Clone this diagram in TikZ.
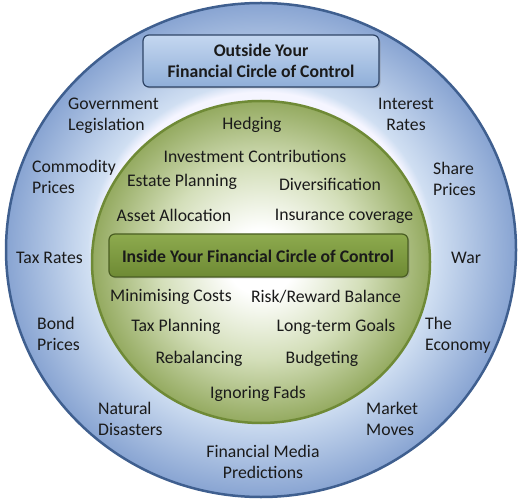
\documentclass[tikz,border=0pt]{standalone}
\usepackage{fontspec}
\setmainfont{Carlito}
\usetikzlibrary{shadows}
\definecolor{txt}{HTML}{1A1A1A}
\definecolor{oborder}{HTML}{3F5F8F}
\definecolor{iborder}{HTML}{6F8A36}
\definecolor{bluetop}{HTML}{C4D7F0}
\definecolor{bluebot}{HTML}{8FAED8}
\definecolor{boxborder}{HTML}{2E4466}
\definecolor{greentop}{HTML}{8DAA4E}
\definecolor{greenbot}{HTML}{6E8A34}
\definecolor{gboxborder}{HTML}{4A5E22}
\pgfdeclareradialshading{outerblue}{\pgfpoint{0bp}{0bp}}{color(0bp)=(white!70!blue!20);
  color(16bp)=(white!80!blue!20); color(17bp)=(rgb,255:red,208;green,223;blue,242);
  color(25bp)=(rgb,255:red,136;green,164;blue,210); color(50bp)=(rgb,255:red,136;green,164;blue,210)}
\pgfdeclareradialshading{innergreen}{\pgfpoint{0bp}{0bp}}{color(0bp)=(white);
  color(5bp)=(white); color(15bp)=(rgb,255:red,212;green,223;blue,186);
  color(25bp)=(rgb,255:red,148;green,170;blue,96); color(50bp)=(rgb,255:red,148;green,170;blue,96)}
\begin{document}
\begin{tikzpicture}[x=1pt,y=-1pt,
  lbl/.style={font=\fontsize{17.7}{21}\selectfont, text=txt, inner sep=0pt},
  lleft/.style={lbl, align=left, anchor=west},
  lctr/.style={lbl, align=center},
  ttl/.style={font=\fontsize{17.7}{21}\selectfont\bfseries, text=txt, inner sep=0pt, align=center},
  bluebox/.style={rounded corners=6pt, draw=boxborder, line width=1.2pt, top color=bluetop, bottom color=bluebot, drop shadow={shadow xshift=1.5pt, shadow yshift=-1.5pt, opacity=0.35}},
  greenbox/.style={rounded corners=6pt, draw=gboxborder, line width=1.2pt, top color=greentop, bottom color=greenbot, drop shadow={shadow xshift=1.5pt, shadow yshift=-1.5pt, opacity=0.35}}
]
\useasboundingbox (0,0) rectangle (524,502);
\fill[white] (0,0) rectangle (524,502);
% outer circle
\shade[shading=outerblue] (261,250) ellipse [x radius=255, y radius=247];
\draw[oborder, line width=2.5pt] (261,250) ellipse [x radius=255, y radius=247];
% inner circle
\shade[shading=innergreen] (261,262) ellipse [x radius=169, y radius=161];
\draw[iborder, line width=2.5pt] (261,262) ellipse [x radius=169, y radius=161];
% boxes
\path[bluebox] (143,35) rectangle (379,87);
\node[ttl] (outtitle) at (261,61) {Outside Your\\Financial Circle of Control};
\path[greenbox] (109,234) rectangle (408,277);
\node[ttl] (intitle) at (258,256) {Inside Your Financial Circle of Control};
% outside labels
\node[lleft] (gov) at (68,115.5) {Government\\Legislation};
\node[lctr] (int) at (406,114.5) {Interest\\Rates};
\node[lleft] (com) at (32,177) {Commodity\\Prices};
\node[lleft] (share) at (433,179) {Share\\Prices};
\node[lleft] (taxr) at (16,258) {Tax Rates};
\node[lleft] (war) at (451,258) {War};
\node[lleft] (bond) at (37,334) {Bond\\Prices};
\node[lleft] (econ) at (425,335) {The\\Economy};
\node[lleft] (nat) at (98,419) {Natural\\Disasters};
\node[lleft] (mkt) at (366,418.5) {Market\\Moves};
\node[lctr] (media) at (263,461.5) {Financial Media\\Predictions};
% inside labels
\node[lctr] (hedge) at (252,125) {Hedging};
\node[lctr] (invest) at (255,156) {Investment Contributions};
\node[lctr] (estate) at (182,182) {Estate Planning};
\node[lctr] (divers) at (330,184) {Diversification};
\node[lctr] (asset) at (174,215) {Asset Allocation};
\node[lctr] (insur) at (344,216) {Insurance coverage};
\node[lctr] (mincost) at (171,297) {Minimising Costs};
\node[lctr] (risk) at (326,297) {Risk/Reward Balance};
\node[lctr] (taxp) at (176,327) {Tax Planning};
\node[lctr] (goals) at (336,327) {Long-term Goals};
\node[lctr] (rebal) at (199,359) {Rebalancing};
\node[lctr] (budget) at (322,359) {Budgeting};
\node[lctr] (fads) at (258,394) {Ignoring Fads};
\end{tikzpicture}
\end{document}
